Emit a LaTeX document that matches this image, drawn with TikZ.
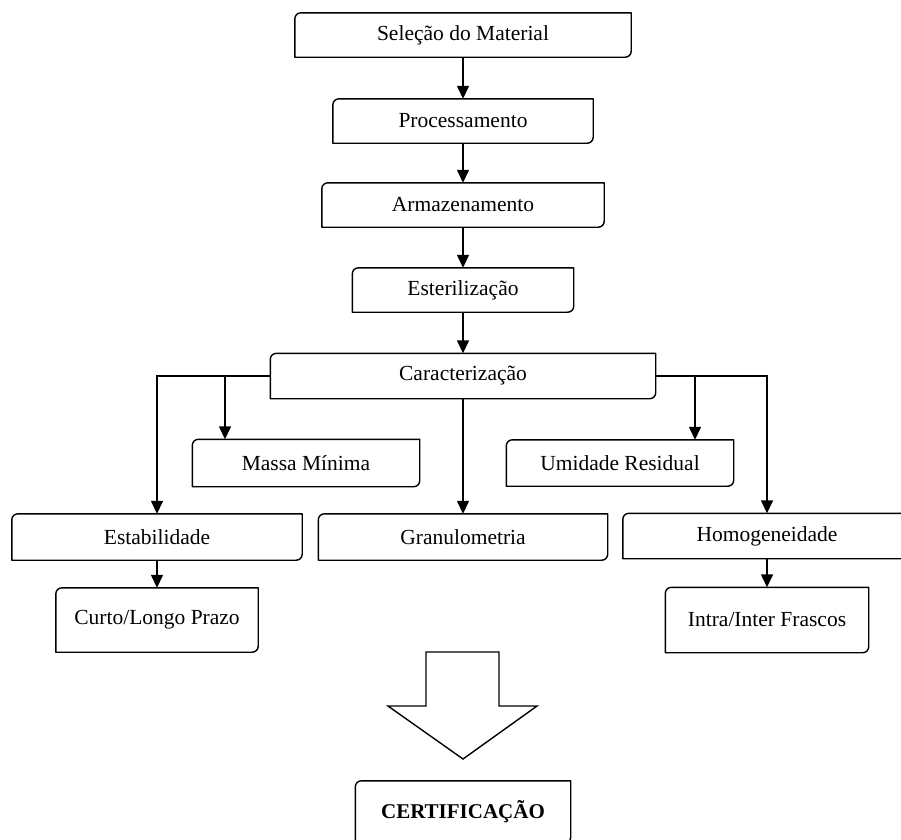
\documentclass[tikz,border=0pt]{standalone}
\usepackage{fontspec}
\setmainfont{Liberation Serif}
\usetikzlibrary{arrows.meta}

\begin{document}
\begin{tikzpicture}[x=1pt,y=-1pt,
  boxline/.style={line width=1.4pt, line join=round},
  stepbox/.style={inner sep=0pt, minimum width=#1},
  flow/.style={line width=1.4pt, -{Triangle[length=13pt,width=12pt]}},
  lbl/.style={font=\fontsize{21.5}{26}\selectfont},
]
% canvas
\useasboundingbox (0,0) rectangle (901,839);
\clip (0,0) rectangle (901,839);

% outline with rounded top-left and bottom-right corners
\newcommand\diagframe[1]{%
  \draw[boxline] (#1.south west) -- ([yshift=-6pt]#1.north west)
    arc[start angle=180,end angle=90,radius=6pt] -- (#1.north east)
    -- ([yshift=6pt]#1.south east)
    arc[start angle=0,end angle=-90,radius=6pt] -- cycle;}

% process steps
\node[lbl, stepbox=336, minimum height=44] (sel)  at (463,35)  {Seleção do Material};
\node[lbl, stepbox=260, minimum height=44] (proc) at (463,121) {Processamento};
\node[lbl, stepbox=282, minimum height=44] (arm)  at (463,205) {Armazenamento};
\node[lbl, stepbox=221, minimum height=44] (est)  at (463,290) {Esterilização};
\node[lbl, stepbox=385, minimum height=45] (car)  at (463,376) {Caracterização};

% characterization tests
\node[lbl, stepbox=227, minimum height=47] (massa) at (306,463) {Massa Mínima};
\node[lbl, stepbox=227, minimum height=46] (umid)  at (620,463) {Umidade Residual};
\node[lbl, stepbox=290, minimum height=46] (estab) at (157,537) {Estabilidade};
\node[lbl, stepbox=289, minimum height=46] (gran)  at (463,537) {Granulometria};
\node[lbl, stepbox=288, minimum height=45] (homog) at (767,536) {Homogeneidade};
\node[lbl, stepbox=202, minimum height=64] (curto) at (157,620) {Curto/Longo Prazo};
\node[lbl, stepbox=203, minimum height=65] (intra) at (767,620) {Intra/Inter Frascos};

% final stage
\node[font=\fontsize{21}{25}\selectfont\bfseries, stepbox=215, minimum height=62] (cert) at (463,812) {CERTIFICAÇÃO};

\foreach \n in {sel,proc,arm,est,car,massa,umid,estab,gran,homog,curto,intra,cert}
  {\diagframe{\n}}

% main sequence
\draw[flow] (sel.south)  -- (proc.north);
\draw[flow] (proc.south) -- (arm.north);
\draw[flow] (arm.south)  -- (est.north);
\draw[flow] (est.south)  -- (car.north);

% branches from characterization
\coordinate (mtap) at (225,376);
\coordinate (utap) at (695,376);
\draw[flow] (car.west) -| (estab.north);
\draw[flow] (mtap) -- (mtap |- massa.north);
\draw[flow] (car.south) -- (gran.north);
\draw[flow] (car.east) -| (homog.north);
\draw[flow] (utap) -- (utap |- umid.north);
\draw[flow] (estab.south) -- (curto.north);
\draw[flow] (homog.south) -- (intra.north);

% block arrow towards certification
\draw[boxline, line join=miter] (426,652) -- (499,652) -- (499,706) -- (537,706)
  -- (463,759) -- (388,706) -- (426,706) -- cycle;
\end{tikzpicture}
\end{document}
